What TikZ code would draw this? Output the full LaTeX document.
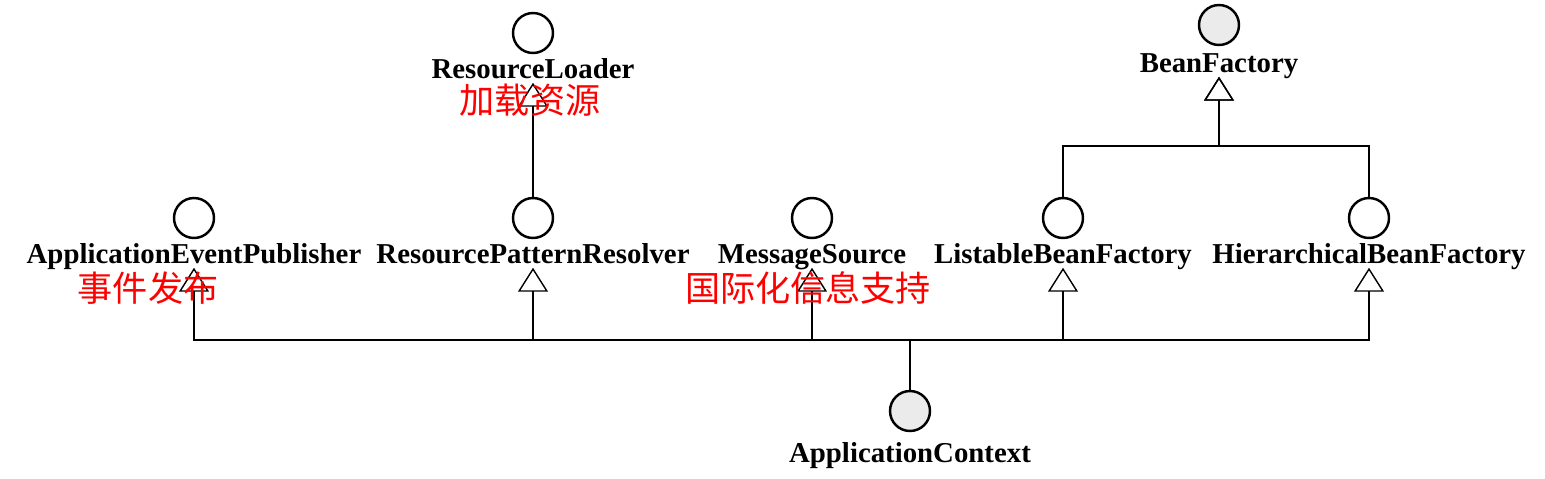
\documentclass[tikz,border=0pt]{standalone}
\usepackage{fontspec}
\setmainfont{Liberation Serif}
\newfontfamily\cjk{Noto Sans CJK SC}
\usetikzlibrary{arrows.meta}

\tikzset{
  iface/.style={draw, circle, line width=1.4pt, minimum size=0.8cm, inner sep=0pt},
  rootiface/.style={iface, fill=black!8},
  ifname/.style={font=\fontsize{16.4}{18}\selectfont\bfseries, inner sep=0pt, text depth=0.25em, anchor=base},
  cnnote/.style={font=\cjk\fontsize{20}{22}\selectfont, text=red, inner sep=0pt},
  isa/.style={-{Triangle[open, width=0.6cm, length=0.48cm]}, line width=0.8pt},
}

\begin{document}
\begin{tikzpicture}[x=0.02cm, y=-0.02cm]
    \useasboundingbox (0,0) rectangle (1545,478);

    % Top interfaces
    \node[iface] (rl) at (533,33) {};
    \node[ifname] (rlname) at (533,78) {ResourceLoader};
    \node[rootiface] (bf) at (1219,25) {};
    \node[ifname] (bfname) at (1219,72) {BeanFactory};

    % Middle row
    \node[iface] (pub) at (194,218) {};
    \node[ifname] (pubname) at (194,263) {ApplicationEventPublisher};
    \node[iface] (rpr) at (533,218) {};
    \node[ifname] (rprname) at (533,263) {ResourcePatternResolver};
    \node[iface] (ms) at (812,218) {};
    \node[ifname] (msname) at (812,263) {MessageSource};
    \node[iface] (lbf) at (1063,218) {};
    \node[ifname] (lbfname) at (1063,263) {ListableBeanFactory};
    \node[iface] (hbf) at (1369,218) {};
    \node[ifname] (hbfname) at (1369,263) {HierarchicalBeanFactory};

    % ApplicationContext
    \node[rootiface] (ctx) at (910,411) {};
    \node[ifname] (ctxname) at (910,462) {ApplicationContext};

    % Inheritance lines
    \coordinate (bus) at (910,340);
    \coordinate (fork) at (1219,146);
    \draw[line width=0.8pt] (ctx) -- (bus);
    \foreach \n in {pubname, rprname, msname, lbfname, hbfname}
        \draw[isa] (bus) -| (\n.south);
    \draw[isa] (rpr) -- (rlname.south);
    \draw[isa] (lbf) |- (fork) -- (bfname.south);
    \draw[isa] (hbf) |- (fork) -- (bfname.south);

    % Red notes
    \node[cnnote] (n1) at (530,100) {加载资源};
    \node[cnnote] (n2) at (148,288) {事件发布};
    \node[cnnote] (n3) at (808,288) {国际化信息支持};
\end{tikzpicture}
\end{document}
